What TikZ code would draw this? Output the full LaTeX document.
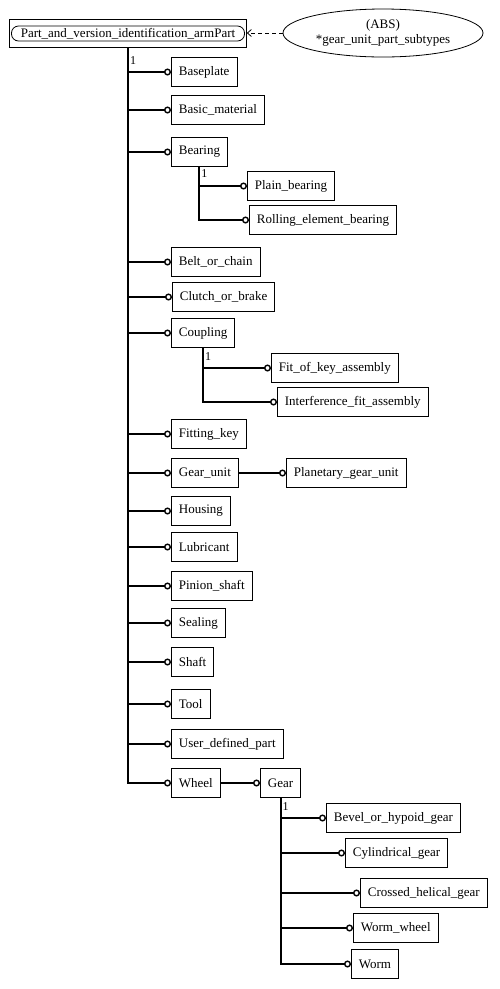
\documentclass[tikz,border=0pt]{standalone}
\usepackage{fontspec}
\setmainfont{Liberation Serif}
\usetikzlibrary{arrows.meta}
\usetikzlibrary{shapes.geometric}
\usetikzlibrary{fit}

\tikzset{
	ent/.style={draw, line width=0.8pt, anchor=west, minimum height=29pt, inner xsep=7.5pt, font=\fontsize{13}{15}\selectfont},
	link/.style={line width=2pt, -{Circle[open,length=7pt,width=7pt,line width=1.4pt]}},
	card/.style={font=\fontsize{12}{14}\selectfont, inner sep=0pt},
}

\begin{document}
\begin{tikzpicture}[x=1pt,y=-1pt]
	\useasboundingbox (0,0) rectangle (499,989);
	%Supertype at the top
	\node [draw, line width=0.8pt, rounded corners=7pt, minimum width=233pt, minimum height=15pt, inner sep=0pt, font=\fontsize{13}{15}\selectfont] (part) at (128,33.5) {Part\_and\_version\_identification\_armPart};
	\node [draw, line width=0.8pt, fit=(part), inner xsep=1.5pt, inner ysep=6pt] (partbox) {};
	%Subtype constraint
	\node [draw, ellipse, line width=0.8pt, minimum width=200pt, minimum height=48pt, inner sep=0pt, align=center, font=\fontsize{13}{15}\selectfont] (abs) at (383,33) {(ABS)\\*gear\_unit\_part\_subtypes};
	\draw [line width=0.8pt, dash pattern=on 4pt off 3pt, -{Straight Barb[length=4pt,width=7pt]}] (abs.west) -- (abs.west -| partbox.east);

	%Subtypes of the supertype
	\node [ent] (baseplate) at (171,72) {Baseplate};
	\node [ent] (basic) at (171,110) {Basic\_material};
	\node [ent] (bearing) at (171,152) {Bearing};
	\node [ent] (belt) at (171,262) {Belt\_or\_chain};
	\node [ent] (clutch) at (172,297) {Clutch\_or\_brake};
	\node [ent] (coupling) at (171,333) {Coupling};
	\node [ent] (fitting) at (171,434) {Fitting\_key};
	\node [ent] (gearunit) at (171,473) {Gear\_unit};
	\node [ent] (housing) at (171,511) {Housing};
	\node [ent] (lubricant) at (171,547) {Lubricant};
	\node [ent] (pinion) at (171,586) {Pinion\_shaft};
	\node [ent] (sealing) at (171,623) {Sealing};
	\node [ent] (shaft) at (171,662) {Shaft};
	\node [ent] (tool) at (171,704) {Tool};
	\node [ent] (user) at (171,744) {User\_defined\_part};
	\node [ent] (wheel) at (171,783) {Wheel};
	%Trunk and branches
	\draw [link] (partbox.south) |- (wheel.west);
	\node [card] at ([shift={(5,13)}]partbox.south) {1};
	\foreach \n in {baseplate,basic,bearing,belt,clutch,coupling,fitting,gearunit,housing,lubricant,pinion,sealing,shaft,tool,user}
		\draw [link] (partbox.south |- \n.west) -- (\n.west);

	%Subtypes of Bearing
	\node [ent] (plain) at (247,186) {Plain\_bearing};
	\node [ent] (rolling) at (249,220) {Rolling\_element\_bearing};
	\draw [link] (bearing.south) |- (plain.west);
	\draw [link] (bearing.south) |- (rolling.west);
	\node [card] at ([shift={(5,7)}]bearing.south) {1};

	%Subtypes of Coupling
	\node [ent] (fitkey) at (271,368) {Fit\_of\_key\_assembly};
	\node [ent] (interference) at (277,402) {Interference\_fit\_assembly};
	\draw [link] (coupling.south) |- (fitkey.west);
	\draw [link] (coupling.south) |- (interference.west);
	\node [card] at ([shift={(5,9)}]coupling.south) {1};

	%Subtype of Gear_unit
	\node [ent] (planetary) at (286,473) {Planetary\_gear\_unit};
	\draw [link] (gearunit.east) -- (planetary.west);

	%Subtypes of Wheel and Gear
	\node [ent] (gear) at (260,783) {Gear};
	\draw [link] (wheel.east) -- (gear.west);
	\node [ent] (bevel) at (326,818) {Bevel\_or\_hypoid\_gear};
	\node [ent] (cylindrical) at (345,853) {Cylindrical\_gear};
	\node [ent] (crossed) at (360,893) {Crossed\_helical\_gear};
	\node [ent] (wormwheel) at (353,928) {Worm\_wheel};
	\node [ent] (worm) at (351,964) {Worm};
	\node [card] at ([shift={(5,9)}]gear.south) {1};
	\foreach \n in {bevel,cylindrical,crossed,wormwheel,worm}
		\draw [link] (gear.south) |- (\n.west);
\end{tikzpicture}
\end{document}
